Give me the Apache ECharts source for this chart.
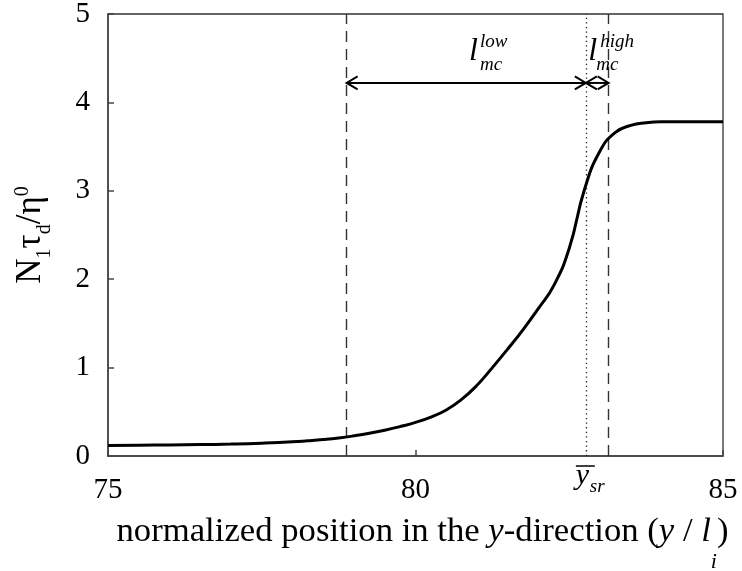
<!DOCTYPE html>
<html>
<head>
<meta charset="utf-8">
<script src="https://cdn.jsdelivr.net/npm/echarts@6/dist/echarts.min.js"></script>
<style>
  html, body { margin: 0; padding: 0; background: #fff; }
  #main { width: 742px; height: 571px; }
</style>
</head>
<body>
<div id="main"></div>
<script>
// Normalized position y / l_i along the channel
const positions = [75, 75.5, 76, 76.5, 77, 77.5, 78, 78.25, 78.5, 78.75, 79, 79.25, 79.5, 79.75,
                   80, 80.25, 80.5, 80.75, 81, 81.25, 81.5, 81.75, 82, 82.25, 82.5, 82.75,
                   83, 83.25, 83.5, 83.75, 84, 84.5, 85];
// First normal stress coefficient N1*tau_d/eta0 at each position
const stressRatio = [0.120, 0.122, 0.125, 0.129, 0.135, 0.145, 0.160, 0.172, 0.186, 0.204, 0.228, 0.257, 0.292, 0.333,
                     0.38, 0.44, 0.52, 0.64, 0.80, 1.00, 1.21, 1.43, 1.67, 1.93, 2.35, 3.02,
                     3.45, 3.66, 3.74, 3.77, 3.78, 3.78, 3.78];

// Axis ranges and tick steps
const xRange = [75, 85];
const xStep = 5;
const yRange = [0, 5];
const yStep = 1;

// Boundaries of the mixing zone and the mean shear-rate position
const lowEdge = 78.88;
const meanPos = 82.77;
const highEdge = 83.14;
const arrowLevel = 4.22;

// Double arrows spanning l_mc^low and l_mc^high: [from, to, level]
const spans = [[lowEdge, meanPos, arrowLevel], [meanPos, highEdge, arrowLevel]];
// Span label anchors: [x, y, superscript]
const spanLabels = [[80.87, 4.446, 'low'], [82.81, 4.446, 'high']];

const FONT = '"Liberation Serif", "Times New Roman", serif';

const chart = echarts.init(document.getElementById('main'));

const yName = { fontFamily: FONT, fontSize: 35, color: '#000', lineHeight: 38 };
const xName = { fontFamily: FONT, fontSize: 34.7, color: '#000', lineHeight: 40, verticalAlign: 'top' };

chart.setOption({
  animation: false,
  backgroundColor: '#fff',
  grid: {
    left: 108, right: 19, top: 14, bottom: 115,
    containLabel: false,
    outerBoundsMode: 'none',
    show: true, borderColor: '#333', borderWidth: 1.3, backgroundColor: 'transparent'
  },
  xAxis: {
    type: 'value', min: xRange[0], max: xRange[1], interval: xStep,
    axisLine: { show: true, onZero: false, lineStyle: { color: '#444', width: 1.5 } },
    axisTick: { show: true, inside: true, length: 6, lineStyle: { color: '#444', width: 1.5 } },
    axisLabel: { fontFamily: FONT, fontSize: 29, color: '#000', margin: 20 },
    splitLine: { show: false },
    name: '{r|normalized position in the }{i|y}{r|-direction (}{i|y}{r| / }{i|l}{s|i}{r|)}',
    nameLocation: 'middle',
    nameGap: 58,
    nameTextStyle: {
      fontFamily: FONT, fontSize: 34.7, color: '#000',
      padding: [0, 0, 0, 14],
      rich: {
        r: Object.assign({}, xName),
        i: Object.assign({}, xName, { fontStyle: 'italic' }),
        s: Object.assign({}, xName, { fontSize: 22, fontStyle: 'italic', lineHeight: 59, verticalAlign: 'bottom' })
      }
    }
  },
  yAxis: {
    type: 'value', min: yRange[0], max: yRange[1], interval: yStep,
    axisLine: { show: true, lineStyle: { color: '#444', width: 1.5 } },
    axisTick: { show: true, inside: true, length: 6, lineStyle: { color: '#444', width: 1.5 } },
    axisLabel: { fontFamily: FONT, fontSize: 29, color: '#000', margin: 18 },
    splitLine: { show: false },
    name: '{m|N}{s|1}{m|τ}{s|d}{m|/η}{u|0}',
    nameLocation: 'middle',
    nameRotate: 90,
    nameGap: 58,
    nameTextStyle: {
      fontFamily: FONT, fontSize: 35, color: '#000',
      rich: {
        m: Object.assign({}, yName),
        s: Object.assign({}, yName, { fontSize: 20, padding: [28, 0, 0, 0] }),
        u: Object.assign({}, yName, { fontSize: 20, padding: [0, 0, 16, 0] })
      }
    }
  },
  series: [
    {
      name: 'N1 tau_d / eta0',
      type: 'line',
      data: positions.map((x, i) => [x, stressRatio[i]]),
      smooth: 0.5,
      symbol: 'none',
      lineStyle: { color: '#000', width: 3 },
      z: 5,
      markLine: {
        silent: true,
        symbol: 'none',
        label: { show: false },
        data: [
          { xAxis: lowEdge, lineStyle: { type: [11, 7], color: '#333', width: 1.4 } },
          { xAxis: meanPos, lineStyle: { type: [1.3, 3.3], color: '#222', width: 1.3 } },
          { xAxis: highEdge, lineStyle: { type: [11, 7], color: '#333', width: 1.4 } }
        ]
      }
    },
    {
      name: 'spans',
      type: 'custom',
      data: spans,
      encode: { x: [0, 1], y: 2 },
      z: 6,
      renderItem(params, api) {
        const a = api.coord([api.value(0), api.value(2)]);
        const b = api.coord([api.value(1), api.value(2)]);
        const L = 11, H = 6.5;
        const st = { stroke: '#000', lineWidth: 2, fill: null };
        return {
          type: 'group',
          children: [
            { type: 'line', shape: { x1: a[0], y1: a[1], x2: b[0], y2: b[1] }, style: st },
            { type: 'polyline', shape: { points: [[a[0] + L, a[1] - H], [a[0], a[1]], [a[0] + L, a[1] + H]] }, style: st },
            { type: 'polyline', shape: { points: [[b[0] - L, b[1] - H], [b[0], b[1]], [b[0] - L, b[1] + H]] }, style: st }
          ]
        };
      }
    },
    {
      name: 'span labels',
      type: 'custom',
      data: spanLabels,
      encode: { x: 0, y: 1 },
      z: 7,
      renderItem(params, api) {
        const p = api.coord([api.value(0), api.value(1)]);
        const sup = spanLabels[params.dataIndex][2];
        const subDx = sup === 'low' ? 11 : 8;
        const supDx = sup === 'low' ? 11 : 12;
        return {
          type: 'group',
          children: [
            { type: 'text', x: p[0], y: p[1] - 10.9,
              style: { text: 'l', font: 'italic 32px ' + FONT, fill: '#000', align: 'left', verticalAlign: 'middle' } },
            { type: 'text', x: p[0] + supDx, y: p[1] - 20.5,
              style: { text: sup, font: 'italic 19px ' + FONT, fill: '#000', align: 'left', verticalAlign: 'middle' } },
            { type: 'text', x: p[0] + subDx, y: p[1] + 2.5,
              style: { text: 'mc', font: 'italic 19px ' + FONT, fill: '#000', align: 'left', verticalAlign: 'middle' } }
          ]
        };
      }
    },
    {
      name: 'mean position label',
      type: 'custom',
      data: [[meanPos, 0]],
      encode: { x: 0, y: 1 },
      z: 7,
      clip: false,
      renderItem(params, api) {
        const p = api.coord([api.value(0), api.value(1)]);
        return {
          type: 'group',
          children: [
            { type: 'line', shape: { x1: p[0] - 10, y1: p[1] + 10, x2: p[0] + 9, y2: p[1] + 10 },
              style: { stroke: '#000', lineWidth: 1.5 } },
            { type: 'text', x: p[0] - 10, y: p[1] + 30 - 10.2,
              style: { text: 'y', font: 'italic 30px ' + FONT, fill: '#000', align: 'left', verticalAlign: 'middle' } },
            { type: 'text', x: p[0] + 4, y: p[1] + 37.5 - 6.5,
              style: { text: 'sr', font: 'italic 19px ' + FONT, fill: '#000', align: 'left', verticalAlign: 'middle' } }
          ]
        };
      }
    }
  ]
});
</script>
</body>
</html>
